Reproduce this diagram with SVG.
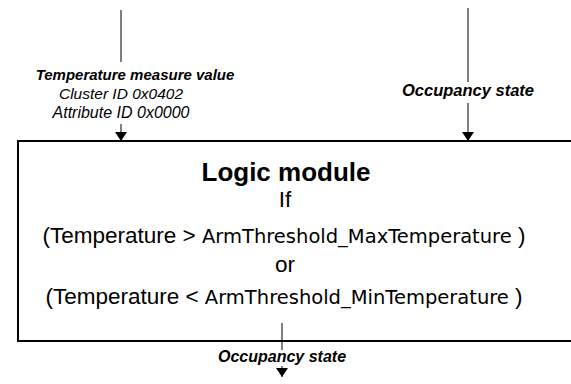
<svg xmlns="http://www.w3.org/2000/svg" width="571" height="384" viewBox="0 0 571 384">
<style>
.ln{stroke:#000;stroke-width:1;fill:none}
.lbl{font-family:"Liberation Sans",Arial,sans-serif;font-style:italic;text-anchor:middle;fill:#000}
.b{font-weight:bold}
.main{font-family:"Liberation Sans",Arial,sans-serif;font-size:22.5px;text-anchor:middle;fill:#000}
.title{font-family:"Liberation Sans",Arial,sans-serif;font-size:26px;font-weight:bold;text-anchor:middle;fill:#000}
.mono{font-family:"DejaVu Sans",Verdana,sans-serif;font-size:19.5px}
</style>
<defs>
<marker id="ah" markerWidth="10" markerHeight="12" refX="9" refY="6" orient="auto" markerUnits="userSpaceOnUse" viewBox="0 0 10 12">
<path d="M0,0 L9,6 L0,12 Z" fill="#000"/>
</marker>
</defs>
<g id="logic-module">
<rect x="18" y="141" width="556" height="200" fill="#fff" stroke="#000" stroke-width="2"/>
<text class="title" x="286" y="181">Logic module</text>
<text class="main" x="285" y="207">If</text>
<text class="main" x="284" y="243">(Temperature &gt; <tspan class="mono">ArmThreshold_MaxTemperature</tspan> )</text>
<text class="main" x="285" y="272">or</text>
<text class="main" x="284" y="304">(Temperature &lt; <tspan class="mono">ArmThreshold_MinTemperature</tspan> )</text>
</g>
<g id="connectors">
<line class="ln" x1="121" y1="10" x2="121" y2="62"/>
<line class="ln" x1="121" y1="124" x2="121" y2="141" marker-end="url(#ah)"/>
<line class="ln" x1="468" y1="8" x2="468" y2="82"/>
<line class="ln" x1="468" y1="103" x2="468" y2="141" marker-end="url(#ah)"/>
<line class="ln" x1="282" y1="323" x2="282" y2="350"/>
<line class="ln" x1="282" y1="366" x2="282" y2="377" marker-end="url(#ah)"/>
</g>
<g id="labels">
<text class="lbl b" x="135" y="80" style="font-size:15px">Temperature measure value</text>
<text class="lbl" x="121" y="99" style="font-size:15.5px">Cluster ID 0x0402</text>
<text class="lbl" x="121" y="118" style="font-size:16px">Attribute ID 0x0000</text>
<text class="lbl b" x="468" y="96" style="font-size:16.5px">Occupancy state</text>
<text class="lbl b" x="282" y="362" style="font-size:16px">Occupancy state</text>
</g>
</svg>
